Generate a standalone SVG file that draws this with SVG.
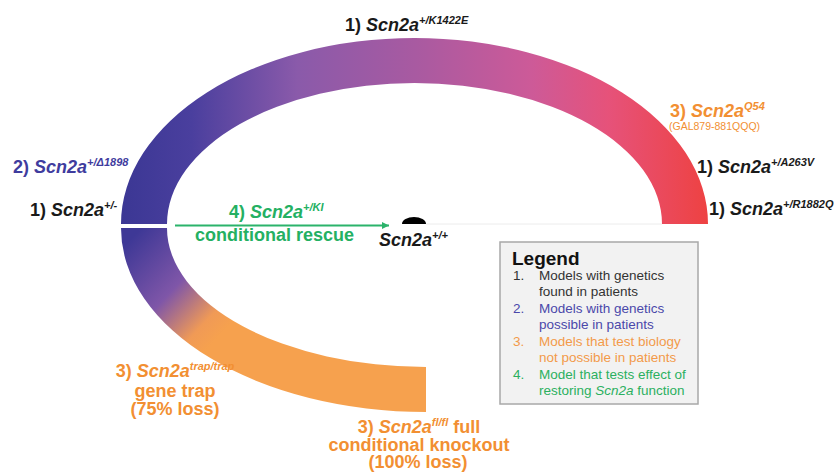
<svg xmlns="http://www.w3.org/2000/svg" width="836" height="472" viewBox="0 0 836 472">
<defs>
<linearGradient id="gUpper" gradientUnits="userSpaceOnUse" x1="121" y1="0" x2="708" y2="0">
<stop offset="0" stop-color="#3b3794"/>
<stop offset="0.12" stop-color="#4a3f9e"/>
<stop offset="0.3" stop-color="#8a5aaa"/>
<stop offset="0.5" stop-color="#a85aa1"/>
<stop offset="0.7" stop-color="#cd5a98"/>
<stop offset="0.83" stop-color="#e6527a"/>
<stop offset="1" stop-color="#ee4242"/>
</linearGradient>
<linearGradient id="gLower" gradientUnits="userSpaceOnUse" x1="125" y1="245" x2="220" y2="335">
<stop offset="0" stop-color="#3e3896"/>
<stop offset="0.5" stop-color="#7f56a8"/>
<stop offset="0.85" stop-color="#f09a56"/>
<stop offset="1" stop-color="#f6a14e"/>
</linearGradient>
<marker id="arrowG" markerWidth="8" markerHeight="8" refX="7" refY="4" orient="auto" markerUnits="userSpaceOnUse">
<path d="M0,0.5 L7,4 L0,7.5 Z" fill="#2bb36b"/>
</marker>
<style>
.lbl{font-family:"Liberation Sans",Arial,sans-serif;font-weight:bold;font-size:18px}
.it{font-style:italic}
.sup{font-size:11px;font-style:italic}
.blk{fill:#1a1a1a}
.blu{fill:#3f3c9e}
.org{fill:#f28f32}
.grn{fill:#24b062}
.leg{font-family:"Liberation Sans",Arial,sans-serif;font-size:13.5px}
</style>
</defs>

<g id="upper-arc">
<path d="M121,224 A293.5,186 0 0 1 708,224 L662,224 A247.5,141 0 0 0 167,224 Z" fill="url(#gUpper)"/>
</g>
<g id="lower-arc">
<path d="M121,228 A305,184 0 0 0 426,412 L426,367 A259,139 0 0 1 167,228 Z" fill="url(#gLower)"/>
</g>

<g id="connectors">
<line x1="426" y1="224" x2="662" y2="224" stroke="#ececec" stroke-width="1"/>
<line x1="175" y1="225.5" x2="389" y2="225.5" stroke="#2bb36b" stroke-width="2" marker-end="url(#arrowG)"/>
</g>

<g id="wildtype">
<path d="M402,224 A12,7 0 0 1 426,224 Z" fill="#000"/>
<text class="lbl blk" x="379" y="246"><tspan class="it">Scn2a</tspan><tspan class="sup" dy="-7">+/+</tspan></text>
</g>

<g id="k1422e">
<text class="lbl blk" x="345" y="31">1) <tspan class="it">Scn2a</tspan><tspan class="sup" dy="-7">+/K1422E</tspan></text>
</g>
<g id="d1898">
<text class="lbl blu" x="13" y="173">2) <tspan class="it">Scn2a</tspan><tspan class="sup" dy="-7">+/Δ1898</tspan></text>
</g>
<g id="het">
<text class="lbl blk" x="30" y="216">1) <tspan class="it">Scn2a</tspan><tspan class="sup" dy="-7">+/-</tspan></text>
</g>
<g id="q54">
<text class="lbl org" x="670" y="117">3) <tspan class="it">Scn2a</tspan><tspan class="sup" dy="-7">Q54</tspan></text>
<text class="org" x="669" y="130" font-family="Liberation Sans, Arial, sans-serif" font-size="10.5">(GAL879-881QQQ)</text>
</g>
<g id="a263v">
<text class="lbl blk" x="697" y="173">1) <tspan class="it">Scn2a</tspan><tspan class="sup" dy="-7">+/A263V</tspan></text>
</g>
<g id="r1882q">
<text class="lbl blk" x="709" y="215">1) <tspan class="it">Scn2a</tspan><tspan class="sup" dy="-7">+/R1882Q</tspan></text>
</g>
<g id="ki">
<text class="lbl grn" x="229" y="218">4) <tspan class="it">Scn2a</tspan><tspan class="sup" dy="-7">+/KI</tspan></text>
<text class="lbl grn" x="195" y="241">conditional rescue</text>
</g>
<g id="trap">
<text class="lbl org" x="175" y="377" text-anchor="middle">3) <tspan class="it">Scn2a</tspan><tspan class="sup" dy="-7">trap/trap</tspan></text>
<text class="lbl org" x="175" y="397" text-anchor="middle">gene trap</text>
<text class="lbl org" x="175" y="415" text-anchor="middle">(75% loss)</text>
</g>
<g id="flfl">
<text class="lbl org" x="419" y="433" text-anchor="middle">3) <tspan class="it">Scn2a</tspan><tspan class="sup" dy="-7">fl/fl</tspan><tspan dy="7"> full</tspan></text>
<text class="lbl org" x="419" y="451" text-anchor="middle">conditional knockout</text>
<text class="lbl org" x="418" y="468" text-anchor="middle">(100% loss)</text>
</g>

<g id="legend">
<rect x="500" y="242" width="198" height="162" fill="#f2f2f2" stroke="#a8a8a8" stroke-width="1.5"/>
<text x="512" y="265" font-family="Liberation Sans, Arial, sans-serif" font-weight="bold" font-size="19" fill="#111">Legend</text>
<text class="leg" fill="#333" x="513" y="280">1.</text>
<text class="leg" fill="#333" x="539" y="280">Models with genetics</text>
<text class="leg" fill="#333" x="539" y="296">found in patients</text>
<text class="leg" fill="#4a48aa" x="513" y="313">2.</text>
<text class="leg" fill="#4a48aa" x="539" y="313">Models with genetics</text>
<text class="leg" fill="#4a48aa" x="539" y="329">possible in patients</text>
<text class="leg" fill="#f39a4a" x="513" y="346">3.</text>
<text class="leg" fill="#f39a4a" x="539" y="346">Models that test biology</text>
<text class="leg" fill="#f39a4a" x="539" y="362">not possible in patients</text>
<text class="leg" fill="#2bb060" x="513" y="379">4.</text>
<text class="leg" fill="#2bb060" x="539" y="379">Model that tests effect of</text>
<text class="leg" fill="#2bb060" x="539" y="395">restoring <tspan font-style="italic">Scn2a</tspan> function</text>
</g>
</svg>
